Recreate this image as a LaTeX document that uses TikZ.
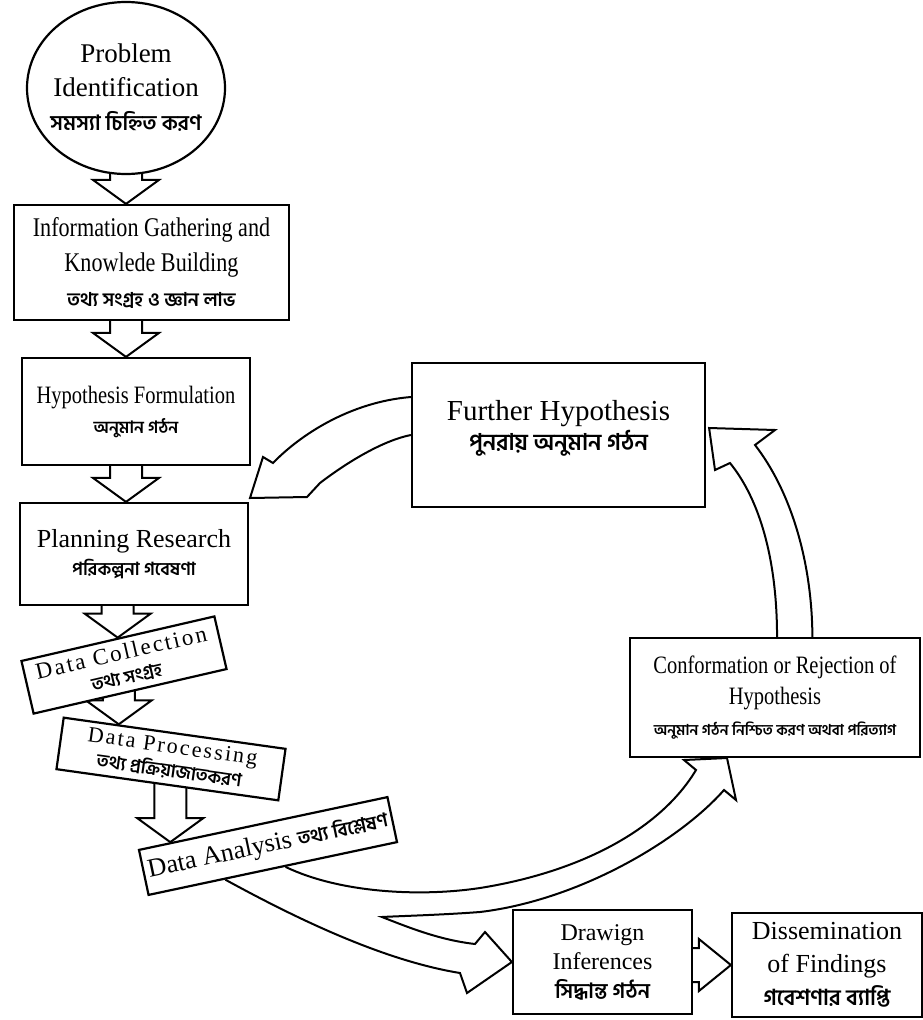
\documentclass[tikz,border=0pt]{standalone}
\usepackage{fontspec}
\setmainfont{Liberation Serif}
\newfontfamily\narrowrm{Liberation Serif}[FakeStretch=0.82]
\newfontfamily\spacedrm{Liberation Serif}[LetterSpace=10]
\newfontfamily\bn{Hind Siliguri}[Script=Bengali]
\usetikzlibrary{calc,shapes.geometric,backgrounds}

\tikzset{
  stage/.style={draw, line width=2.2pt, fill=white, align=center, inner sep=0pt},
  hollow/.style={draw, line width=2pt, fill=white, line join=miter},
}
% hollow block arrow going down from node #1 to the tip #2
\newcommand\downblock[2]{%
  \draw[hollow] let \p1=(#1), \p2=(#2) in
    (\x2-16pt,\y1+6pt) -- (\x2-16pt,\y2+24pt) -- (\x2-33pt,\y2+24pt) -- (\p2)
    -- (\x2+33pt,\y2+24pt) -- (\x2+16pt,\y2+24pt) -- (\x2+16pt,\y1+6pt);}
% hollow block arrow going right from node #1 to the tip #2
\newcommand\rightblock[2]{%
  \draw[hollow] let \p1=(#1), \p2=(#2) in
    (\x1-6pt,\y2+17pt) -- (\x2-32pt,\y2+17pt) -- (\x2-32pt,\y2+26pt) -- (\p2)
    -- (\x2-32pt,\y2-26pt) -- (\x2-32pt,\y2-17pt) -- (\x1-6pt,\y2-17pt);}

\begin{document}
\begin{tikzpicture}[x=1pt,y=-1pt]
\useasboundingbox (0,0) rectangle (923,1020);
% left column
\node[stage, ellipse, inner xsep=-12pt, minimum width=198pt, minimum height=172pt, font=\fontsize{27}{34}\selectfont] (prob) at (126,88)
  {Problem\\Identification\\{\bn\bfseries\fontsize{21}{24}\selectfont সমস্যা চিহ্নিত করণ}};
\node[stage, minimum width=275pt, minimum height=115pt, font=\narrowrm\fontsize{27}{35}\selectfont] (info) at (151.5,262.5)
  {Information Gathering and\\Knowlede Building\\{\bn\bfseries\fontsize{19}{24}\selectfont তথ্য সংগ্রহ ও জ্ঞান লাভ}};
\node[stage, minimum width=228pt, minimum height=107pt, font=\narrowrm\fontsize{25}{30}\selectfont] (hyp) at (136,411.5)
  {Hypothesis Formulation\\{\bn\bfseries\fontsize{17}{22}\selectfont অনুমান গঠন}};
\node[stage, minimum width=228pt, minimum height=102pt, font=\fontsize{26}{28}\selectfont] (plan) at (134,554)
  {Planning Research\\{\bn\bfseries\fontsize{18}{22}\selectfont পরিকল্পনা গবেষণা}};
\node[stage, rotate=13, minimum width=198pt, minimum height=54pt, font=\spacedrm\fontsize{23}{24}\selectfont] (dcol) at (124,665)
  {Data Collection\\{\bn\bfseries\fontsize{18}{22}\selectfont তথ্য সংগ্রহ}};
\node[stage, rotate=-8, minimum width=224pt, minimum height=52pt, font=\spacedrm\fontsize{22}{24}\selectfont] (dproc) at (171,759)
  {Data Processing\\{\bn\bfseries\fontsize{18}{22}\selectfont তথ্য প্রক্রিয়াজাতকরণ}};
\node[stage, rotate=12, minimum width=254pt, minimum height=46pt, font=\fontsize{26}{30}\selectfont] (dana) at (268,846)
  {Data Analysis {\bn\bfseries\fontsize{19}{24}\selectfont তথ্য বিশ্লেষণ}};
% right side
\node[stage, minimum width=293pt, minimum height=144pt, font=\fontsize{29}{30}\selectfont] (furth) at (558.5,435)
  {Further Hypothesis\\{\bn\bfseries\fontsize{23}{26}\selectfont পুনরায় অনুমান গঠন}\rule[-20pt]{0pt}{20pt}};
\node[stage, minimum width=290pt, minimum height=119pt, font=\narrowrm\fontsize{25}{31}\selectfont] (conf) at (775,697.5)
  {Conformation or Rejection of\\Hypothesis\\{\bn\bfseries\fontsize{15}{18}\selectfont অনুমান গঠন নিশ্চিত করণ অথবা পরিত্যাগ}};
\node[stage, minimum width=179pt, minimum height=104pt, font=\fontsize{24}{29}\selectfont] (infer) at (602.5,962)
  {Drawign\\Inferences\\{\bn\bfseries\fontsize{21}{22}\selectfont সিদ্ধান্ত গঠন}};
\node[stage, minimum width=190pt, minimum height=104pt, font=\fontsize{26}{33}\selectfont] (dissem) at (827,965)
  {Dissemination\\of Findings\\{\bn\bfseries\fontsize{22}{22}\selectfont গবেশণার ব্যাপ্তি}};

\coordinate (backtip) at (250,498);
\coordinate (fhtip) at ($(furth.east)+(3,-7)$);
\coordinate (conftip) at (727,758);
\coordinate (fork) at (382,917);

\begin{pgfonlayer}{background}
\downblock{prob.south}{info.north -| prob.center}
\downblock{info.south}{hyp.north -| prob.center}
\downblock{hyp.south}{plan.north -| prob.center}
\downblock{plan.south}{dcol.north}
\downblock{dcol.south}{$(dproc.north west)!0.25!(dproc.north east)$}
\downblock{dproc.south}{$(dana.north west)!0.13!(dana.north east)$}
\rightblock{infer.east}{dissem.west}
% back to the hypothesis
\draw[hollow] ($(furth.west)+(0,-38)$) .. controls (350,402) and (300,435) .. (273,463)
  -- (263,457) -- (backtip) -- (307,497) -- (320,483)
  .. controls (350,460) and (385,440) .. (furth.west);
% up to further hypothesis
\draw[hollow] ($(conf.north west)!0.507!(conf.north east)$) .. controls (777,560) and (760,500) .. (730,463)
  -- (715,470) -- (fhtip) -- (775,430) -- (755,445)
  .. controls (790,490) and (812,560) .. ($(conf.north west)!0.628!(conf.north east)$);
% analysis splits in two
\draw[hollow] ($(dana.south west)!0.55!(dana.south east)$)
  .. controls (340,893) and (420,897) .. (480,888)
  .. controls (580,872) and (660,830) .. (696,770)
  -- (684,760) -- (conftip) -- (736,800) -- (724,790)
  .. controls (680,840) and (580,900) .. (480,912)
  .. controls (440,915) and (400,916) .. (fork)
  .. controls (410,928) and (440,940) .. (475,944)
  -- (485,932) -- (infer.west) -- (467,993) -- (460,973)
  .. controls (380,960) and (290,915) .. ($(dana.south west)!0.31!(dana.south east)$);
\end{pgfonlayer}
\end{tikzpicture}
\end{document}
